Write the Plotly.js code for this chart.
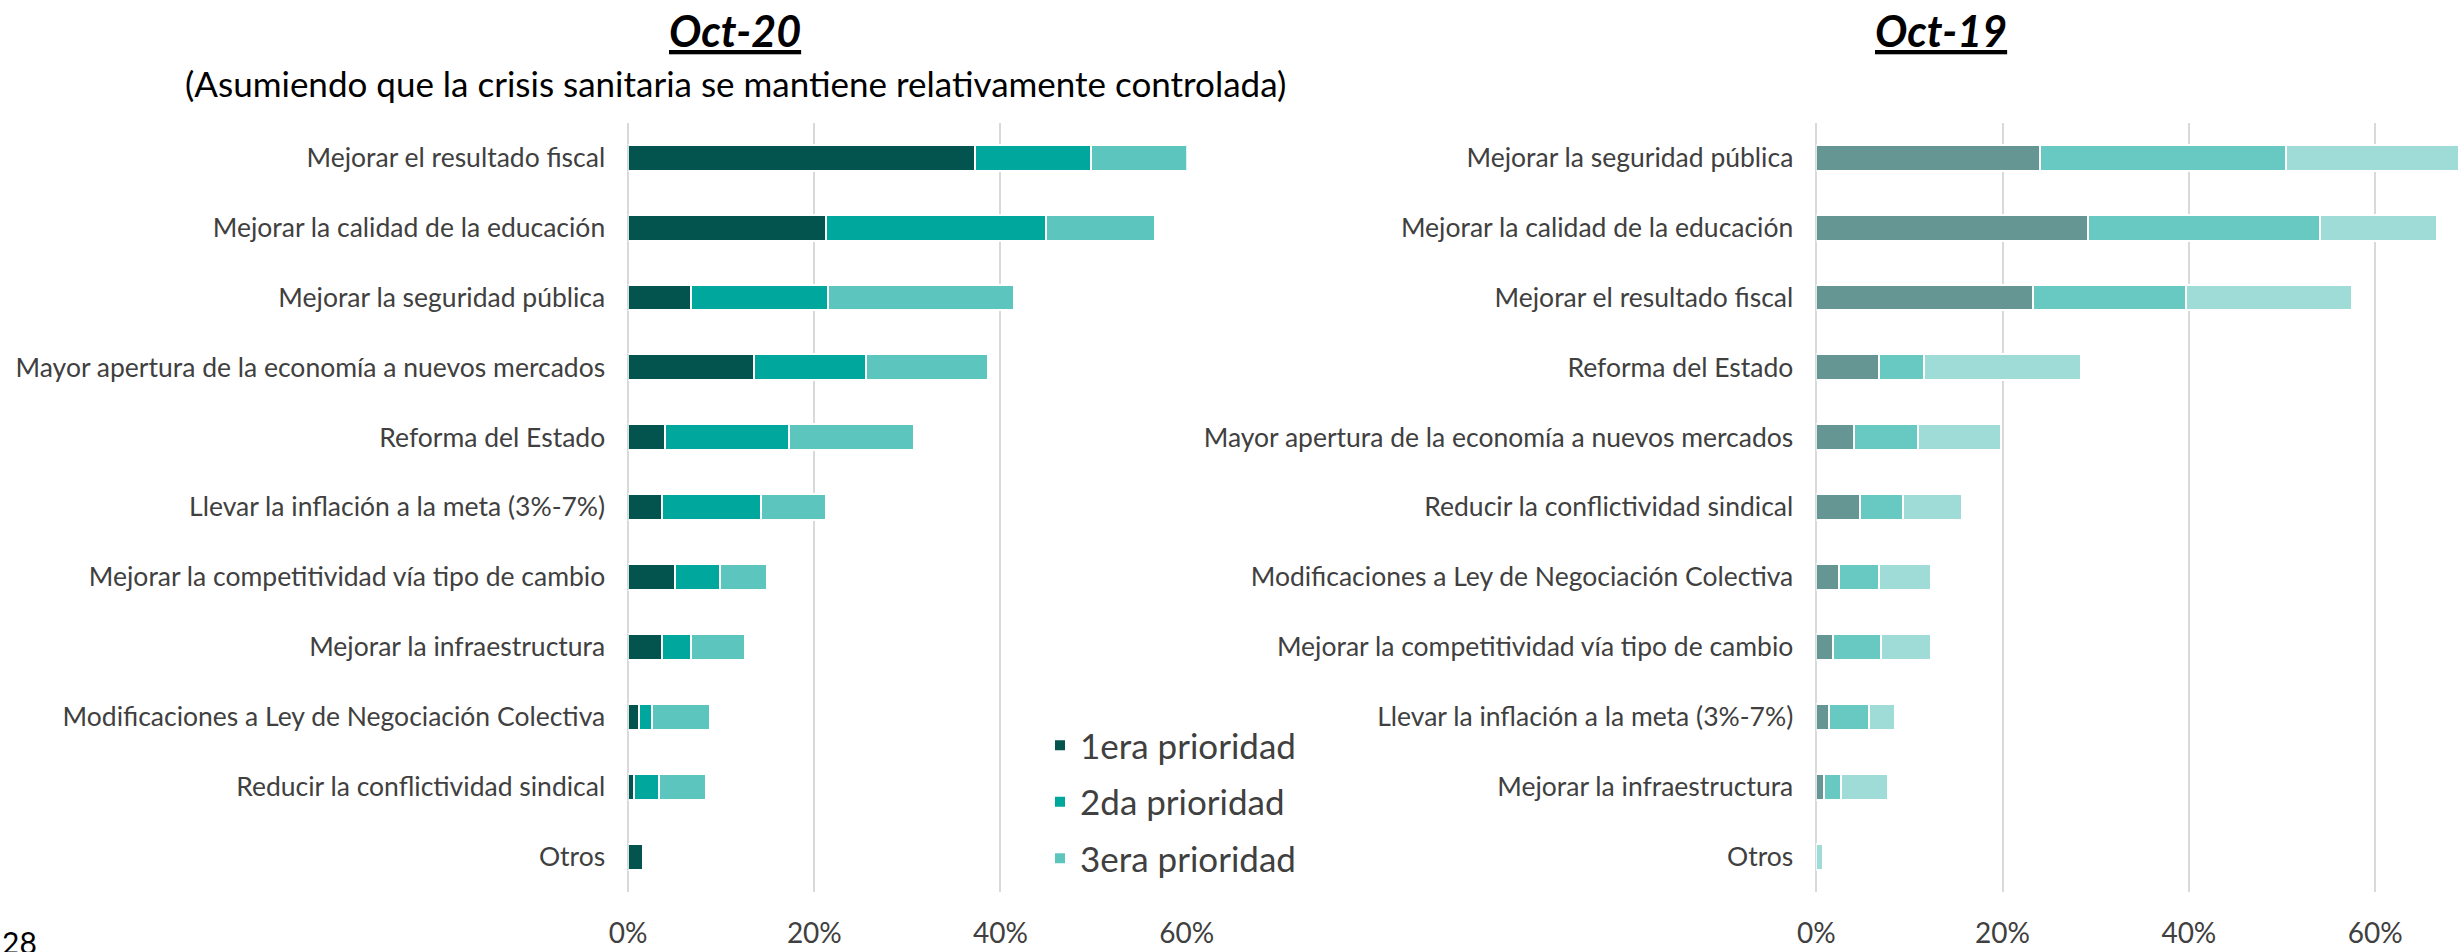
<!DOCTYPE html>
<html>
<head>
<meta charset="utf-8">
<script src="https://cdn.plot.ly/plotly-3.0.1.min.js"></script>
<style>html,body{margin:0;padding:0;background:#fff;overflow:hidden}#chart{width:2458px;height:952px}</style>
</head>
<body>
<div id="chart"></div>
<script>
// ---- Data ----
var seriesNames = ["1era prioridad", "2da prioridad", "3era prioridad"];

var catsOct20 = [
  "Mejorar el resultado fiscal",
  "Mejorar la calidad de la educación",
  "Mejorar la seguridad pública",
  "Mayor apertura de la economía a nuevos mercados",
  "Reforma del Estado",
  "Llevar la inflación a la meta (3%-7%)",
  "Mejorar la competitividad vía tipo de cambio",
  "Mejorar la infraestructura",
  "Modificaciones a Ley de Negociación Colectiva",
  "Reducir la conflictividad sindical",
  "Otros"
];
var p1Oct20 = [0.373, 0.212, 0.067, 0.135, 0.040, 0.036, 0.050, 0.036, 0.012, 0.006, 0.016];
var p2Oct20 = [0.124, 0.237, 0.148, 0.121, 0.133, 0.107, 0.049, 0.031, 0.014, 0.027, 0.000];
var p3Oct20 = [0.103, 0.117, 0.199, 0.131, 0.134, 0.069, 0.050, 0.059, 0.062, 0.051, 0.000];

var catsOct19 = [
  "Mejorar la seguridad pública",
  "Mejorar la calidad de la educación",
  "Mejorar el resultado fiscal",
  "Reforma del Estado",
  "Mayor apertura de la economía a nuevos mercados",
  "Reducir la conflictividad sindical",
  "Modificaciones a Ley de Negociación Colectiva",
  "Mejorar la competitividad vía tipo de cambio",
  "Llevar la inflación a la meta (3%-7%)",
  "Mejorar la infraestructura",
  "Otros"
];
var p1Oct19 = [0.240, 0.292, 0.233, 0.067, 0.040, 0.047, 0.024, 0.018, 0.014, 0.008, 0.000];
var p2Oct19 = [0.264, 0.249, 0.164, 0.049, 0.069, 0.046, 0.043, 0.052, 0.043, 0.019, 0.000];
var p3Oct19 = [0.196, 0.125, 0.178, 0.168, 0.089, 0.063, 0.056, 0.053, 0.027, 0.050, 0.007];

var xTickVals = [0, 0.2, 0.4, 0.6];
var xTickText = ["0%", "20%", "40%", "60%"];

// ---- Styles ----
var colorsOct20 = ["#03534F", "#00A79D", "#5CC6BE"];
var colorsOct19 = ["#669694", "#68C9C3", "#9FDCD7"];
var FONT = "Lato, 'Open Sans', sans-serif";
var TXT = "#404040";

function mk(cats, vals, i, colors, xa, ya, showLeg) {
  return {
    type: "bar", orientation: "h",
    y: cats, x: vals,
    name: seriesNames[i],
    legendgroup: "g" + i,
    showlegend: showLeg,
    xaxis: xa, yaxis: ya,
    marker: {color: colors[i], line: {color: "#ffffff", width: 2}},
    hoverinfo: "skip"
  };
}

var data = [
  mk(catsOct20, p1Oct20, 0, colorsOct20, "x", "y", true),
  mk(catsOct20, p2Oct20, 1, colorsOct20, "x", "y", true),
  mk(catsOct20, p3Oct20, 2, colorsOct20, "x", "y", true),
  mk(catsOct19, p1Oct19, 0, colorsOct19, "x2", "y2", false),
  mk(catsOct19, p2Oct19, 1, colorsOct19, "x2", "y2", false),
  mk(catsOct19, p3Oct19, 2, colorsOct19, "x2", "y2", false)
];

var W = 2458, H = 952;
var yDom = [1 - 891.7 / H, 1 - 122.7 / H];

function xAxis(dom, rng, anchor) {
  return {
    domain: dom, range: rng, anchor: anchor,
    tickvals: xTickVals, ticktext: xTickText,
    showgrid: true, gridcolor: "#D9D9D9", gridwidth: 2,
    zeroline: true, zerolinecolor: "#D9D9D9", zerolinewidth: 2,
    showline: false, ticks: "",
    ticklabelstandoff: 22,
    tickfont: {family: FONT, size: 28, color: TXT},
    fixedrange: true
  };
}
function yAxis(anchor) {
  return {
    domain: yDom, anchor: anchor,
    autorange: "reversed", type: "category",
    showgrid: false, zeroline: false, showline: false, ticks: "",
    ticklabelstandoff: 22,
    tickfont: {family: FONT, size: 26.5, color: TXT},
    fixedrange: true
  };
}

var layout = {
  width: W, height: H,
  margin: {l: 0, r: 0, t: 0, b: 0, pad: 0},
  paper_bgcolor: "#ffffff", plot_bgcolor: "rgba(0,0,0,0)",
  barmode: "stack", bargap: 0.63,
  showlegend: true,
  xaxis: xAxis([628.2 / W, 1186.6 / W], [0, 0.6], "y"),
  yaxis: yAxis("x"),
  xaxis2: xAxis([1816.3 / W, 1], [0, 0.689], "y2"),
  yaxis2: yAxis("x2"),
  legend: {
    x: 1040 / W, y: 1 - 716 / H, xanchor: "left", yanchor: "top",
    bgcolor: "#ffffff", borderwidth: 0,
    traceorder: "grouped", tracegroupgap: 8,
    font: {family: FONT, size: 35, color: TXT}
  },
  annotations: [
    {text: "<b><i><u>Oct-20</u></i></b>", xref: "paper", yref: "paper",
     x: 735 / W, y: 1 - 31 / H, xanchor: "center", yanchor: "middle", showarrow: false,
     font: {family: FONT, size: 43, color: "#000000"}},
    {text: "(Asumiendo que la crisis sanitaria se mantiene relativamente controlada)", xref: "paper", yref: "paper",
     x: 735 / W, y: 1 - 83 / H, xanchor: "center", yanchor: "middle", showarrow: false,
     font: {family: FONT, size: 35, color: "#000000"}},
    {text: "<b><i><u>Oct-19</u></i></b>", xref: "paper", yref: "paper",
     x: 1941 / W, y: 1 - 31 / H, xanchor: "center", yanchor: "middle", showarrow: false,
     font: {family: FONT, size: 43, color: "#000000"}},
    {text: "28", xref: "paper", yref: "paper",
     x: 0, y: 1 - 922 / H, xanchor: "left", yanchor: "top", showarrow: false,
     font: {family: FONT, size: 30, color: "#000000"}}
  ]
};

Plotly.newPlot("chart", data, layout, {staticPlot: true, displayModeBar: false});
</script>
</body>
</html>
